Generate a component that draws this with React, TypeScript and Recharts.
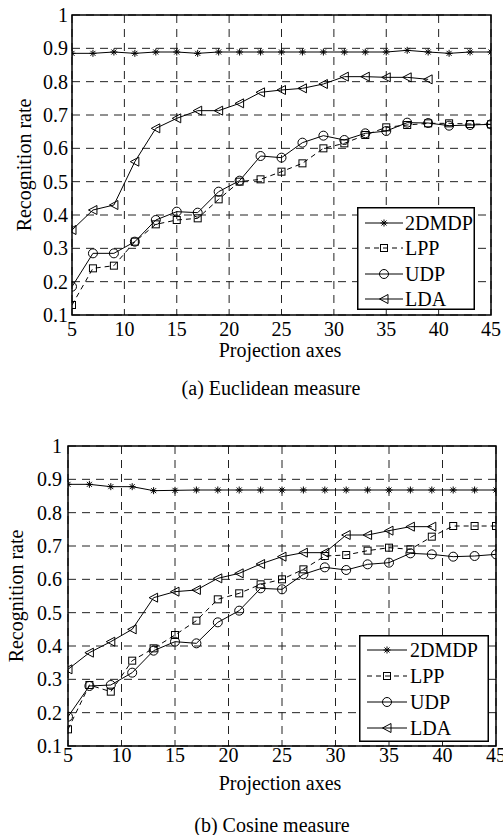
import React from 'react';
import { LineChart, Line, XAxis, YAxis, CartesianGrid, ReferenceArea, Legend } from 'recharts';

const projectionAxes = [5, 7, 9, 11, 13, 15, 17, 19, 21, 23, 25, 27, 29, 31, 33, 35, 37, 39, 41, 43, 45];
const xTicks = [5, 10, 15, 20, 25, 30, 35, 40, 45];
const yTicks = [0.1, 0.2, 0.3, 0.4, 0.5, 0.6, 0.7, 0.8, 0.9, 1];
const seriesNames = ['2DMDP', 'LPP', 'UDP', 'LDA'];

// (a) Euclidean measure
const mdpEuclid = [0.885, 0.885, 0.889, 0.885, 0.889, 0.889, 0.885, 0.889, 0.889, 0.889, 0.889, 0.889, 0.889, 0.889, 0.889, 0.889, 0.894, 0.889, 0.885, 0.889, 0.889];
const lppEuclid = [0.13, 0.24, 0.248, 0.32, 0.372, 0.385, 0.39, 0.447, 0.5, 0.507, 0.53, 0.555, 0.6, 0.615, 0.64, 0.663, 0.67, 0.675, 0.675, 0.673, 0.672];
const udpEuclid = [0.185, 0.285, 0.285, 0.32, 0.385, 0.41, 0.407, 0.47, 0.503, 0.577, 0.572, 0.617, 0.638, 0.625, 0.645, 0.652, 0.677, 0.676, 0.668, 0.67, 0.672];
const ldaEuclid = [0.355, 0.415, 0.43, 0.56, 0.66, 0.69, 0.713, 0.713, 0.735, 0.768, 0.775, 0.78, 0.793, 0.815, 0.815, 0.813, 0.813, 0.807, null, null, null];

// (b) Cosine measure
const mdpCosine = [0.885, 0.885, 0.878, 0.878, 0.866, 0.867, 0.868, 0.868, 0.868, 0.868, 0.868, 0.868, 0.868, 0.868, 0.868, 0.868, 0.868, 0.868, 0.868, 0.868, 0.868];
const lppCosine = [0.15, 0.283, 0.263, 0.356, 0.393, 0.433, 0.476, 0.54, 0.558, 0.585, 0.6, 0.63, 0.67, 0.673, 0.686, 0.695, 0.69, 0.728, 0.76, 0.76, 0.76];
const udpCosine = [0.188, 0.28, 0.283, 0.32, 0.386, 0.413, 0.408, 0.471, 0.506, 0.573, 0.57, 0.615, 0.636, 0.628, 0.645, 0.65, 0.678, 0.675, 0.668, 0.67, 0.675];
const ldaCosine = [0.33, 0.38, 0.413, 0.45, 0.545, 0.563, 0.568, 0.603, 0.618, 0.646, 0.668, 0.68, 0.68, 0.733, 0.733, 0.746, 0.758, 0.758, null, null, null];

const FONT = '"Liberation Serif", "Times New Roman", Times, serif';
const kinds = ['star', 'square', 'circle', 'triangle'];
const keys = ['mdp', 'lpp', 'udp', 'lda'];
const dashes: (string | undefined)[] = [undefined, '5 4', undefined, undefined];

function markerShape(kind: string, cx: number, cy: number, key?: any) {
  const s = { stroke: '#000', strokeWidth: 1, fill: 'none' };
  if (kind === 'star') {
    return (
      <g key={key}>
        <line x1={cx - 3.5} y1={cy} x2={cx + 3.5} y2={cy} {...s} />
        <line x1={cx} y1={cy - 3.5} x2={cx} y2={cy + 3.5} {...s} />
        <line x1={cx - 2.5} y1={cy - 2.5} x2={cx + 2.5} y2={cy + 2.5} {...s} />
        <line x1={cx - 2.5} y1={cy + 2.5} x2={cx + 2.5} y2={cy - 2.5} {...s} />
      </g>
    );
  }
  if (kind === 'square') {
    return <rect key={key} x={cx - 3.5} y={cy - 3.5} width={7} height={7} {...s} />;
  }
  if (kind === 'circle') {
    return <circle key={key} cx={cx} cy={cy} r={4.5} {...s} />;
  }
  return <polygon key={key} points={`${cx - 4.5},${cy} ${cx + 4},${cy - 4.5} ${cx + 4},${cy + 4.5}`} {...s} />;
}

function makeDot(kind: string) {
  return (props: any) => {
    const { cx, cy, index, value } = props;
    if (cx == null || cy == null || value == null || (Array.isArray(value) && value[1] == null)) {
      return <g key={`e-${index}`} />;
    }
    return markerShape(kind, cx, cy, `d-${index}`);
  };
}

type LegendCfg = { left: number; top: number; width: number; height: number; rows: number[]; x1: number; x2: number; tx: number };

function LegendBox({ cfg }: { cfg: LegendCfg }) {
  return (
    <svg width={cfg.width} height={cfg.height} style={{ display: 'block' }}>
      <rect x={0.75} y={0.75} width={cfg.width - 1.5} height={cfg.height - 1.5} fill="#fff" stroke="#000" strokeWidth={1.5} />
      {seriesNames.map((n, i) => {
        const cy = cfg.rows[i];
        const mid = (cfg.x1 + cfg.x2) / 2;
        return (
          <g key={n}>
            <line x1={cfg.x1} y1={cy} x2={cfg.x2} y2={cy} stroke="#000" strokeWidth={1} strokeDasharray={dashes[i]} />
            {markerShape(kinds[i], mid, cy)}
            <text x={cfg.tx} y={cy + 7} fontFamily={FONT} fontSize={20} fill="#000">{n}</text>
          </g>
        );
      })}
    </svg>
  );
}

type ChartCfg = {
  top: number;
  height: number;
  marginTop: number;
  marginRight: number;
  yWidth: number;
  xHeight: number;
  xTickMargin: number;
  yTickMargin: number;
  axisLabelDy: number;
  captionDy: number;
  captionX: number;
  axisLabelX: number;
  yLabelX: number;
  caption: string;
  legend: LegendCfg;
  series: (number | null)[][];
};

function Panel({ cfg }: { cfg: ChartCfg }) {
  const data = projectionAxes.map((x, i) => ({
    x,
    mdp: cfg.series[0][i],
    lpp: cfg.series[1][i],
    udp: cfg.series[2][i],
    lda: cfg.series[3][i],
  }));
  const plotTop = cfg.marginTop;
  const plotBottom = cfg.height - cfg.xHeight;
  const plotMid = (plotTop + plotBottom) / 2;
  return (
    <div style={{ position: 'absolute', left: 0, top: cfg.top }}>
      <LineChart
        width={503}
        height={cfg.height}
        data={data}
        margin={{ top: cfg.marginTop, right: cfg.marginRight, left: 0, bottom: 0 }}
      >
        <CartesianGrid stroke="#222" strokeWidth={1} strokeDasharray="8 6" horizontalValues={yTicks} verticalValues={xTicks} />
        <XAxis
          dataKey="x"
          type="number"
          domain={[5, 45]}
          ticks={xTicks}
          allowDataOverflow
          height={cfg.xHeight}
          tickLine={false}
          tickSize={0}
          tickMargin={cfg.xTickMargin}
          axisLine={false}
          interval={0}
          tick={{ fill: '#000', fontSize: 20, fontFamily: FONT }}
          label={{
            content: (p: any) => {
              const vb = p.viewBox || {};
              const y0 = vb.y != null ? vb.y : plotBottom;
              return (
                <g>
                  <text x={cfg.axisLabelX} y={y0 + cfg.axisLabelDy} textAnchor="middle" fontFamily={FONT} fontSize={20} fill="#000">Projection axes</text>
                  <text x={cfg.captionX} y={y0 + cfg.captionDy} textAnchor="middle" fontFamily={FONT} fontSize={20} fill="#000">{cfg.caption}</text>
                </g>
              );
            },
          }}
        />
        <YAxis
          type="number"
          domain={[0.1, 1]}
          ticks={yTicks}
          allowDataOverflow
          width={cfg.yWidth}
          tickLine={false}
          tickSize={0}
          tickMargin={cfg.yTickMargin}
          axisLine={false}
          interval={0}
          tickFormatter={(v: number) => (v === 1 ? '1' : v.toFixed(1))}
          tick={{ fill: '#000', fontSize: 20, fontFamily: FONT }}
          label={{
            content: () => (
              <text
                x={cfg.yLabelX}
                y={plotMid}
                transform={`rotate(-90 ${cfg.yLabelX} ${plotMid})`}
                textAnchor="middle"
                dominantBaseline="central"
                fontFamily={FONT}
                fontSize={20}
                fill="#000"
              >
                Recognition rate
              </text>
            ),
          }}
        />
        <ReferenceArea x1={5} x2={45} y1={0.1} y2={1} fill="none" stroke="#000" strokeWidth={1.5} ifOverflow="visible" />
        {keys.map((k, i) => (
          <Line
            key={k}
            type="linear"
            dataKey={k}
            name={seriesNames[i]}
            stroke="#000"
            strokeWidth={1}
            strokeDasharray={dashes[i]}
            dot={makeDot(kinds[i])}
            activeDot={false}
            isAnimationActive={false}
            connectNulls={false}
          />
        ))}
        <Legend
          layout="horizontal"
          verticalAlign="middle"
          align="center"
          wrapperStyle={{ position: 'absolute', left: cfg.legend.left, top: cfg.legend.top, width: cfg.legend.width, height: cfg.legend.height }}
          content={() => <LegendBox cfg={cfg.legend} />}
        />
      </LineChart>
    </div>
  );
}

const chartA: ChartCfg = {
  top: 0,
  height: 410,
  marginTop: 15,
  marginRight: 12,
  yWidth: 72,
  xHeight: 95,
  xTickMargin: 7,
  yTickMargin: 4,
  axisLabelDy: 42,
  captionDy: 80,
  captionX: 271,
  axisLabelX: 280,
  yLabelX: 24,
  caption: '(a) Euclidean measure',
  legend: { left: 357, top: 207, width: 118, height: 103, rows: [16, 41, 67, 92], x1: 8, x2: 46, tx: 48 },
  series: [mdpEuclid, lppEuclid, udpEuclid, ldaEuclid],
};

const chartB: ChartCfg = {
  top: 410,
  height: 425,
  marginTop: 36,
  marginRight: 7,
  yWidth: 68,
  xHeight: 89,
  xTickMargin: 2,
  yTickMargin: 6,
  axisLabelDy: 44,
  captionDy: 86,
  captionX: 272,
  axisLabelX: 280,
  yLabelX: 16,
  caption: '(b) Cosine measure',
  legend: { left: 359, top: 225, width: 130, height: 107, rows: [15, 41, 67, 93], x1: 8, x2: 48, tx: 51 },
  series: [mdpCosine, lppCosine, udpCosine, ldaCosine],
};

export default function App() {
  return (
    <div style={{ position: 'absolute', left: 0, top: 0, width: 503, height: 835, background: '#fff' }}>
      <Panel cfg={chartA} />
      <Panel cfg={chartB} />
    </div>
  );
}
